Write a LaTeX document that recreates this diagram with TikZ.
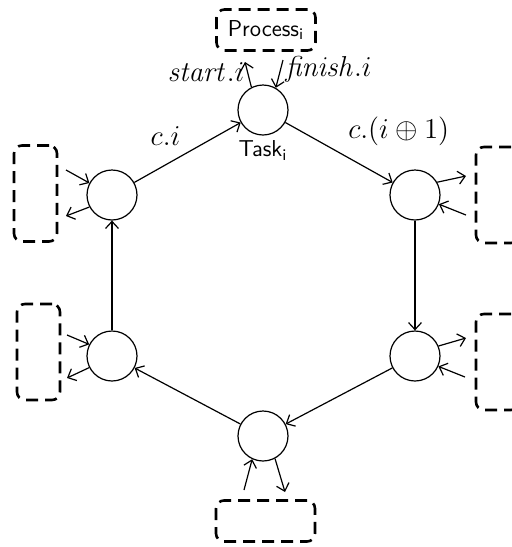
\documentclass[tikz,border=0pt]{standalone}
\usepackage{amsmath,amssymb}
\usepackage{tikz}
\usetikzlibrary{arrows.meta,positioning}

\begin{document}
\begin{tikzpicture}[
  x=0.5pt,y=-0.5pt,line width=0.6pt,
  task/.style={draw,circle,minimum size=25pt,inner sep=0pt},
  proc/.style={draw,rounded corners=4pt,line width=1.3pt,dash pattern=on 6pt off 3.5pt,font=\sffamily\fontsize{11.5}{13}\selectfont,inner sep=0pt},
  pwide/.style={proc,minimum width=49.5pt,minimum height=20.5pt},
  pside/.style={proc,minimum width=21.5pt,minimum height=48pt},
  lbl/.style={font=\fontsize{15}{18}\selectfont},
  >={Straight Barb[length=3.5pt,width=6.5pt]}]
\useasboundingbox (0,0) rectangle (512,547);
% ring of tasks
\node[task] (t0) at (263,110) {};
\node[task] (t1) at (415,195) {};
\node[task] (t2) at (415,356) {};
\node[task] (t3) at (263,436) {};
\node[task] (t4) at (112,356) {};
\node[task] (t5) at (112,195) {};
\node[below=-1pt of t0,font=\sffamily\fontsize{11.5}{13}\selectfont] (tname) {Task\textsubscript{i}};
% processes
\node[pwide] (p0) at (266,30) {Process\textsubscript{i}};
\node[pside] (p1) at (497.5,195) {};
\node[pside] (p2) at (497.5,362) {};
\node[pwide] (p3) at (265.5,521) {};
\node[pside] (p4) at (38.5,352) {};
\node[pside] (p5) at (35.5,193.5) {};
% loose ends of the process links
\coordinate (out0) at (245,62);  \coordinate (in0) at (283,60);
\coordinate (out1) at (466,176); \coordinate (in1) at (466,215);
\coordinate (out2) at (466,338); \coordinate (in2) at (465,377);
\coordinate (out3) at (285,492); \coordinate (in3) at (244,490);
\coordinate (out4) at (67,378);  \coordinate (in4) at (67,335);
\coordinate (out5) at (66,216);  \coordinate (in5) at (66,170);
% channels
\draw[->] (t5)--node[lbl,midway,above left]{$c.i$}(t0);
\draw[->] (t0)--node[lbl,midway,above right,xshift=1pt]{$c.(i\oplus1)$}(t1);
\draw[->] (t1)--(t2);
\draw[->] (t2)--(t3);
\draw[->] (t3)--(t4);
\draw[->] (t4)--(t5);
% task <-> process
\draw[->] (t0.117)--node[lbl,left,pos=0.6,xshift=2pt]{$\mathit{start}.i$}(out0);
\draw[->] (in0)--node[lbl,right,pos=0.35,xshift=-1pt]{$\mathit{finish}.i$}(t0.60);
\draw[->] (t1.30)--(out1);
\draw[->] (in1)--(t1.-21);
\draw[->] (t2.23)--(out2);
\draw[->] (in2)--(t2.-24);
\draw[->] (t3.298)--(out3);
\draw[->] (in3)--(t3.245);
\draw[->] (t4.207)--(out4);
\draw[->] (in4)--(t4.153);
\draw[->] (t5.208)--(out5);
\draw[->] (in5)--(t5.152);
\end{tikzpicture}
\end{document}
